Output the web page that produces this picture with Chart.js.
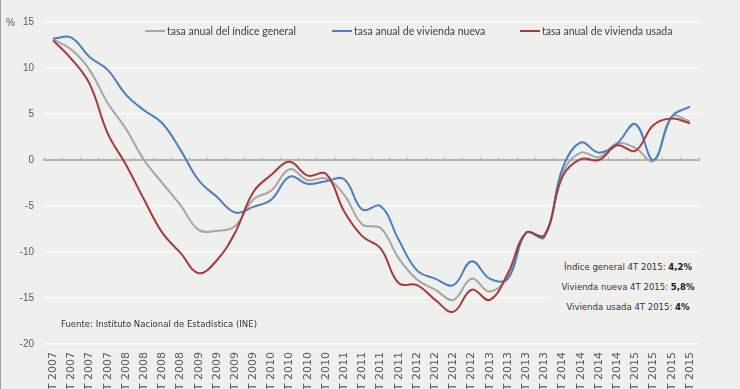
<!DOCTYPE html>
<html lang="es">
<head>
<meta charset="utf-8">
<title>Precio de vivienda: tasas anuales</title>
<script src="https://cdn.jsdelivr.net/npm/chart.js@4.4.1/dist/chart.umd.min.js"></script>
<style>
  html, body { margin: 0; padding: 0; background: #eff0ee; overflow: hidden; }
  #marco { position: relative; width: 740px; height: 389px; }
  #marco canvas { position: absolute; left: 0; top: 0; }
  #bordeIzq { position: absolute; left: 0; top: 0; width: 1px; height: 389px; background: #a0a0a0; }
  .txt { position: absolute; font-family: "DejaVu Sans Condensed", "DejaVu Sans", sans-serif; font-size: 9.5px; color: #333; white-space: nowrap; }
  #porcentaje { left: 6px; top: 17px; font-family: "Liberation Sans", sans-serif; font-size: 10px; color: #595959; }
  #fuente { left: 61px; top: 318px; }
  #notas { position: absolute; left: 547px; top: 256px; width: 162px; height: 64px; background: #eff0ee; }
  #notas div { position: absolute; left: 0; width: 162px; text-align: center; font-family: "DejaVu Sans Condensed", "DejaVu Sans", sans-serif; font-size: 9.5px; color: #333; white-space: nowrap; }
  #notas b { color: #1a1a1a; }
  .leyenda { position: absolute; top: 24px; height: 14px; display: flex; align-items: center; font-family: Lato, "Liberation Sans", sans-serif; font-size: 10.5px; color: #404040; white-space: nowrap; }
  .leyenda span.linea { display: inline-block; width: 20px; height: 2px; margin-right: 2px; }
</style>
</head>
<body>
<div id="marco">
  <canvas id="grafico" width="740" height="389"></canvas>
  <div id="bordeIzq"></div>
  <div class="txt" id="porcentaje">%</div>
  <div class="txt" id="fuente">Fuente: Instituto Nacional de Estadística (INE)</div>
  <div id="notas"></div>
  <div id="leyenda"></div>
</div>
<script>
const trimestres = [
  "1T 2007", "2T 2007", "3T 2007", "4T 2007",
  "1T 2008", "2T 2008", "3T 2008", "4T 2008",
  "1T 2009", "2T 2009", "3T 2009", "4T 2009",
  "1T 2010", "2T 2010", "3T 2010", "4T 2010",
  "1T 2011", "2T 2011", "3T 2011", "4T 2011",
  "1T 2012", "2T 2012", "3T 2012", "4T 2012",
  "1T 2013", "2T 2013", "3T 2013", "4T 2013",
  "1T 2014", "2T 2014", "3T 2014", "4T 2014",
  "1T 2015", "2T 2015", "3T 2015", "4T 2015"
];

const indiceGeneral = [
  13.1, 12.0, 9.8, 6.2, 3.4, 0.0, -2.5, -4.9,
  -7.6, -7.7, -7.2, -4.3, -3.3, -1.0, -2.2, -2.0,
  -3.8, -7.0, -7.4, -10.7, -13.0, -14.1, -15.2, -12.9,
  -14.3, -12.7, -7.9, -8.2, -1.4, 0.8, 0.3, 1.8,
  1.3, -0.1, 4.7, 4.2
];

const viviendaNueva = [
  13.2, 13.3, 11.2, 9.8, 7.1, 5.4, 4.0, 1.1,
  -2.2, -4.0, -5.7, -5.1, -4.3, -1.8, -2.6, -2.3,
  -2.1, -5.4, -5.0, -8.7, -12.0, -12.9, -13.6, -11.0,
  -12.9, -12.9, -7.9, -8.4, -0.9, 1.9, 0.8, 1.8,
  3.9, 0.0, 4.7, 5.8
];

const viviendaUsada = [
  13.0, 11.0, 8.3, 2.9, -0.5, -4.3, -7.9, -10.1,
  -12.3, -10.9, -7.9, -3.5, -1.6, -0.2, -1.7, -1.5,
  -5.6, -8.3, -9.6, -13.4, -13.6, -15.2, -16.5, -14.1,
  -15.2, -12.3, -7.9, -8.2, -1.8, 0.1, 0.0, 1.6,
  1.0, 3.8, 4.5, 4.0
];

const nombresSeries = [
  "tasa anual del índice general",
  "tasa anual de vivienda nueva",
  "tasa anual de vivienda usada"
];

const notasTexto = ["Índice general 4T 2015: ", "Vivienda nueva 4T 2015: ", "Vivienda usada 4T 2015: "];
const notasValor = ["4,2%", "5,8%", "4%"];

const colores = ["#a5a5a5", "#4a7fc1", "#a83a36"];

const ctx = document.getElementById("grafico").getContext("2d");

const grafico = new Chart(ctx, {
  type: "line",
  data: {
    labels: trimestres,
    datasets: [
      { label: nombresSeries[0], data: indiceGeneral, borderColor: colores[0], order: 2 },
      { label: nombresSeries[1], data: viviendaNueva, borderColor: colores[1], order: 1 },
      { label: nombresSeries[2], data: viviendaUsada, borderColor: colores[2], order: 0 }
    ]
  },
  options: {
    responsive: false,
    animation: false,
    layout: { padding: { top: 22, right: 41, left: 0, bottom: 0 } },
    elements: {
      line: { borderWidth: 2, tension: 0.4, fill: false },
      point: { radius: 0 }
    },
    plugins: {
      legend: { display: false },
      tooltip: { enabled: false }
    },
    scales: {
      x: {
        type: "category",
        offset: true,
        grid: { display: false },
        border: { display: false },
        ticks: {
          autoSkip: false,
          minRotation: 90,
          maxRotation: 90,
          padding: 0,
          color: "#595959",
          font: { family: "DejaVu Sans", size: 11 }
        },
        afterFit: function(s) { s.height = 45; }
      },
      ejeCero: {
        type: "category",
        axis: "x",
        position: { y: 0 },
        offset: true,
        grid: {
          display: true,
          offset: true,
          drawOnChartArea: false,
          drawTicks: true,
          tickLength: -4,
          color: "#b5b5b5",
          lineWidth: 1
        },
        border: { display: true, color: "#b5b5b5", width: 2 },
        ticks: { display: false },
        afterFit: function(s) { s.height = 0; }
      },
      y: {
        min: -20,
        max: 15,
        ticks: {
          stepSize: 5,
          padding: 10,
          color: "#595959",
          font: { family: "Liberation Sans", size: 10 }
        },
        grid: {
          drawTicks: false,
          lineWidth: 1.5,
          color: function(c) { return c.tick && c.tick.value === 0 ? "rgba(0,0,0,0)" : "#fbfbfb"; }
        },
        border: { display: false },
        afterFit: function(s) { s.width = 44; }
      }
    }
  }
});

// leyenda en html, dentro del área del gráfico
const leyenda = document.getElementById("leyenda");
const posLeyenda = [145, 332, 520];
grafico.data.datasets.forEach((ds, i) => {
  const item = document.createElement("div");
  item.className = "leyenda";
  item.style.left = posLeyenda[i] + "px";
  item.innerHTML = '<span class="linea" style="background:' + ds.borderColor + '"></span>' + ds.label;
  leyenda.appendChild(item);
});

// notas del último trimestre
const notas = document.getElementById("notas");
const topNotas = [5, 25, 45];
notasTexto.forEach((t, i) => {
  const d = document.createElement("div");
  d.style.top = topNotas[i] + "px";
  d.innerHTML = t + "<b>" + notasValor[i] + "</b>";
  notas.appendChild(d);
});
</script>
</body>
</html>
